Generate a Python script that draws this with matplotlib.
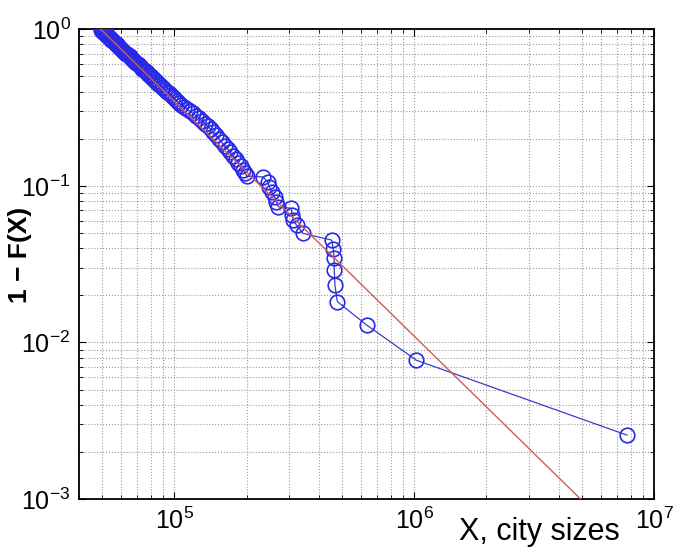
import numpy as np
import matplotlib
matplotlib.use("Agg")
import matplotlib.pyplot as plt
from matplotlib.ticker import LogLocator, NullFormatter

plt.rcParams['font.family'] = ['Liberation Sans', 'DejaVu Sans']
plt.rcParams['mathtext.fontset'] = 'custom'
plt.rcParams['mathtext.rm'] = 'Liberation Sans'
plt.rcParams['mathtext.it'] = 'Liberation Sans:italic'
plt.rcParams['mathtext.bf'] = 'Liberation Sans:bold'

city_sizes = [49300, 49600, 49900, 50300, 50600, 51000, 51300, 51700, 52100, 52500,
              52900, 53300, 53700, 54200, 54600, 55100, 55500, 56000, 56400, 56900,
              57400, 57900, 58400, 58900, 59500, 60000, 60600, 61200, 61800, 62400,
              63000, 63600, 64300, 65000, 65700, 66400, 67100, 67900, 68600, 69400,
              70200, 71000, 71900, 72700, 73600, 74600, 75500, 76500, 77500, 78500,
              79600, 80700, 81900, 83100, 84300, 85600, 87000, 88400, 89900, 91400,
              93000, 94700, 96400, 98200, 100100, 102100, 104200, 107000, 110000, 113000,
              116000, 119500, 123000, 126500, 130000, 134000, 138000, 141500, 145000, 149000,
              153000, 157500, 162000, 166500, 170500, 175000, 180000, 185000, 189500, 194000,
              197500, 200500,
              234000, 245000, 249000, 254000, 262000, 266000, 271000, 307000, 310000, 313000,
              323000, 344000, 453000, 460000, 463000, 464000, 467000, 478000, 634000, 1020000,
              7700000]
ccdf = [1.0, 0.99, 0.98, 0.97, 0.96, 0.95, 0.94, 0.93, 0.92, 0.91,
        0.90, 0.89, 0.88, 0.87, 0.86, 0.85, 0.84, 0.83, 0.82, 0.81,
        0.80, 0.79, 0.78, 0.77, 0.76, 0.75, 0.74, 0.73, 0.72, 0.71,
        0.70, 0.69, 0.68, 0.67, 0.66, 0.65, 0.64, 0.63, 0.62, 0.61,
        0.60, 0.59, 0.58, 0.57, 0.56, 0.55, 0.54, 0.53, 0.52, 0.51,
        0.50, 0.49, 0.48, 0.47, 0.46, 0.45, 0.44, 0.43, 0.42, 0.41,
        0.40, 0.39, 0.38, 0.37, 0.36, 0.35, 0.34, 0.33, 0.32, 0.31,
        0.30, 0.29, 0.28, 0.27, 0.26, 0.25, 0.24, 0.23, 0.22, 0.21,
        0.20, 0.19, 0.18, 0.172, 0.164, 0.156, 0.148, 0.14, 0.133, 0.126,
        0.12, 0.115,
        0.114, 0.106, 0.0986, 0.0916, 0.085, 0.079, 0.0734, 0.0718, 0.065, 0.0604,
        0.0561, 0.0497, 0.045, 0.0393, 0.0344, 0.029, 0.0232, 0.0182, 0.0129, 0.0077,
        0.00256]

# power-law fit line (end points)
fit_x = [49300, 5500000]
fit_y = [1.0, 8.5e-4]

fig = plt.figure(figsize=(6.75, 5.52), dpi=100)
ax = fig.add_axes([0.117, 0.096, 0.852, 0.851])

ax.loglog(city_sizes, ccdf, '-', color='#3b3bc8', lw=0.9, marker='o', ms=10.5,
          mfc='none', mec='#2a2ae6', mew=1.2, zorder=3)
ax.loglog(fit_x, fit_y, '-', color='#d05a5a', lw=1.0, zorder=4)

ax.set_xlim(4e4, 1e7)
ax.set_ylim(1e-3, 1)

ax.xaxis.set_major_locator(LogLocator(base=10, numticks=10))
ax.yaxis.set_major_locator(LogLocator(base=10, numticks=10))
ax.xaxis.set_minor_locator(LogLocator(base=10, subs=np.arange(2, 10), numticks=20))
ax.yaxis.set_minor_locator(LogLocator(base=10, subs=np.arange(2, 10), numticks=20))
ax.xaxis.set_minor_formatter(NullFormatter())
ax.yaxis.set_minor_formatter(NullFormatter())

ax.grid(True, which='both', ls=':', color='#9a9a9a', lw=0.8)
ax.tick_params(which='both', direction='in', top=True, right=True, labelsize=18)
ax.tick_params(which='major', length=5, width=0.8, pad=6)
ax.tick_params(which='minor', length=3, width=0.6)
for s in ax.spines.values():
    s.set_linewidth(1.3)

ax.set_ylabel('1 − F(X)', fontsize=19, fontweight='bold', va='center')
ax.yaxis.set_label_coords(-0.103, 0.52)
ax.set_xlabel('X, city sizes', fontsize=22)
ax.xaxis.label.set_va('baseline')
ax.xaxis.set_label_coords(0.80, -0.087)

fig.savefig('out.png', dpi=100)
